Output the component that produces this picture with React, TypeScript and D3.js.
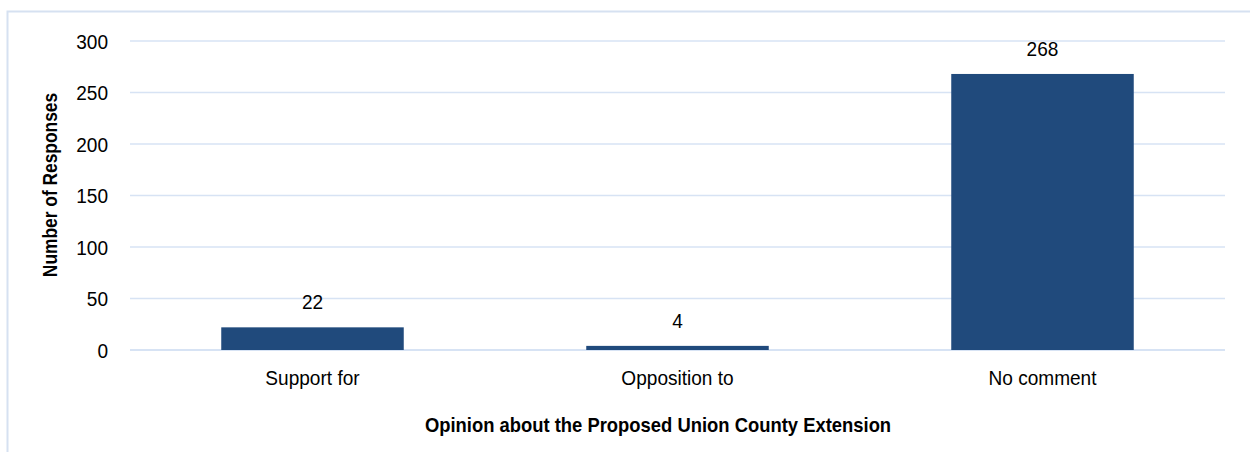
import React from "react";
import * as d3 from "d3";

const categories = ["Support for", "Opposition to", "No comment"];
const values = [22, 4, 268];
const yTicks = [0, 50, 100, 150, 200, 250, 300];
const xTitle = "Opinion about the Proposed Union County Extension";
const yTitle = "Number of Responses";

export default function App() {
  const W = 1250, H = 452;
  const left = 130, right = 1225, top = 41, bottom = 350;
  const x = d3.scaleBand<string>().domain(categories).range([left, right]).paddingInner(0.5).paddingOuter(0.25);
  const y = d3.scaleLinear().domain([0, 300]).range([bottom, top]);
  const font = "'Liberation Sans', Arial, sans-serif";
  const sx = 0.93;
  const T = (px: number, py: number, s = sx, rot = 0) =>
    `translate(${px},${py})${rot ? ` rotate(${rot})` : ""} scale(${s},1)`;
  return (
    <svg width={W} height={H} style={{ position: "absolute", left: 0, top: 0, background: "#fff" }} fontFamily={font}>
      <rect x={7.5} y={11.5} width={1300} height={500} fill="#fff" stroke="#d6e1f1" strokeWidth={2} />
      {yTicks.map((t) => (
        <g key={t}>
          <line x1={left} x2={right} y1={y(t)} y2={y(t)} stroke="#d7e3f4" strokeWidth={t === 0 ? 2 : 1.5} />
          <text transform={T(108, y(t) + 7.5)} textAnchor="end" fontSize={20.5} fill="#000">{t}</text>
        </g>
      ))}
      {categories.map((c, i) => {
        const cx = (x(c) as number) + x.bandwidth() / 2;
        return (
          <g key={c}>
            <rect x={x(c)} y={y(values[i])} width={x.bandwidth()} height={y(0) - y(values[i])} fill="#204a7c" />
            <text transform={T(cx, y(values[i]) - 18)} textAnchor="middle" fontSize={20.5} fill="#000">{values[i]}</text>
            <text transform={T(cx, 385)} textAnchor="middle" fontSize={20.5} fill="#000">{c}</text>
          </g>
        );
      })}
      <text transform={T(658, 432, 0.93)} textAnchor="middle" fontSize={19.8} fontWeight="bold" fill="#000">{xTitle}</text>
      <text transform={T(57, 185, 0.9, -90)} textAnchor="middle" fontSize={19.3} fontWeight="bold" fill="#000">{yTitle}</text>
    </svg>
  );
}
